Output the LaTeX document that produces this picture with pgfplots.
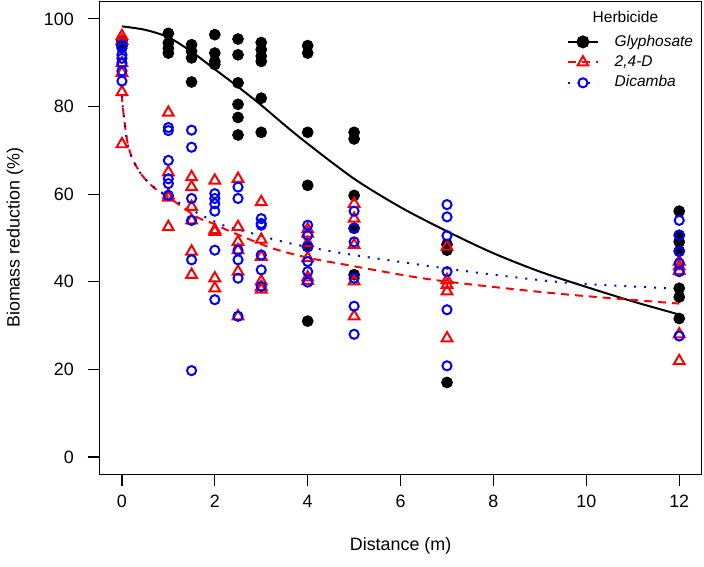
\documentclass[border=0pt]{standalone}
\usepackage{fontspec}
\setmainfont{Liberation Sans}
\usepackage{pgfplots}
\pgfplotsset{compat=1.18}
\begin{document}
\begin{tikzpicture}
\begin{axis}[
  scale only axis, width=302.95pt, height=238.1pt,
  xmin=-0.48, xmax=12.48, ymin=-4, ymax=104,
  xtick={0,2,4,6,8,10,12}, ytick={0,20,40,60,80,100},
  xtick pos=bottom, ytick pos=left,
  tick align=outside, major tick length=6pt,
  tick style={black, line width=0.6pt},
  axis line style={line width=0.6pt},
  ticklabel style={font=\fontsize{9}{10.8}\selectfont},
  yticklabel style={xshift=-3.5pt},
  xticklabel style={yshift=-1pt},
  /pgf/number format/assume math mode=true,
  xlabel={Distance (m)}, ylabel={Biomass reduction (\%)},
  label style={font=\fontsize{9}{10.8}\selectfont},
  xlabel style={at={(axis description cs:0.5,-0.1607)}, anchor=base},
  ylabel style={at={(axis description cs:-0.133,0.5)}, anchor=base},
  legend style={draw=none, fill=none, at={(axis description cs:0.766,0.947)}, anchor=north west,
    font=\fontsize{7.8}{9}\selectfont\itshape, row sep=-0.75pt,
    /tikz/every odd column/.append style={column sep=6pt}},
  legend cell align=left,
  legend image code/.code={\draw[mark repeat=2,mark phase=2,#1] plot coordinates {(0pt,0pt) (7.5pt,0pt) (15pt,0pt)};},
]
% Glyphosate points
\addplot[only marks, mark=*, mark size=2.75pt, black, forget plot] coordinates {
(0,95) (0,94.5) (0,93.8)
(1,96.7) (1,94.5) (1,93.3) (1,92.2)
(1.5,94.1) (1.5,92.6) (1.5,91.1) (1.5,85.6)
(2,96.4) (2,92.2) (2,90.3) (2,89.6)
(2.5,95.4) (2.5,91.8) (2.5,85.4) (2.5,80.5) (2.5,77.5) (2.5,73.5)
(3,94.6) (3,93.0) (3,91.5) (3,90.3) (3,81.9) (3,74.1)
(4,93.9) (4,92.2) (4,74.1) (4,62.0) (4,48.0) (4,31.0)
(5,74.1) (5,72.6) (5,59.7) (5,52.2) (5,41.6)
(7,48.5) (7,47.2) (7,17.0)
(12,56.1) (12,50.6) (12,49.1) (12,47.0) (12,38.5) (12,36.5) (12,31.6)
};
% 2,4-D points
\addplot[only marks, mark=triangle, mark size=3.1pt, red, line width=1pt, forget plot] coordinates {
(0,96.1) (0,95.0) (0,89.9) (0,87.7) (0,83.3) (0,71.4)
(1,78.6) (1,65.0) (1,59.7) (1,59.2) (1,52.5)
(1.5,63.9) (1.5,61.6) (1.5,57.1) (1.5,54.0) (1.5,46.9) (1.5,41.6)
(2,63.1) (2,51.8) (2,51.4) (2,40.8) (2,38.5)
(2.5,63.5) (2.5,52.5) (2.5,49.1) (2.5,47.2) (2.5,42.3) (2.5,32.1)
(3,58.2) (3,49.6) (3,45.7) (3,40.1) (3,38.8) (3,38.2)
(4,52.0) (4,51.0) (4,48.8) (4,45.4) (4,41.0) (4,40.2)
(5,57.8) (5,54.4) (5,48.4) (5,40.1) (5,32.1)
(7,48.0) (7,40.4) (7,39.3) (7,37.8) (7,27.1)
(12,44.6) (12,43.5) (12,42.5) (12,28.0) (12,21.9)
};
% Dicamba points
\addplot[only marks, mark=o, mark size=2.3pt, blue, line width=1pt, forget plot] coordinates {
(0,94.1) (0,93.3) (0,91.8) (0,91.0) (0,89.9) (0,88.1) (0,85.8)
(1,75.2) (1,74.5) (1,67.7) (1,63.5) (1,62.4) (1,59.7)
(1.5,74.6) (1.5,70.7) (1.5,59.0) (1.5,54.0) (1.5,45.0) (1.5,19.7)
(2,60.1) (2,59.0) (2,57.8) (2,56.1) (2,47.2) (2,35.9)
(2.5,61.6) (2.5,59.0) (2.5,47.2) (2.5,45.0) (2.5,40.8) (2.5,32.1)
(3,54.4) (3,53.3) (3,52.9) (3,46.1) (3,42.7) (3,38.9)
(4,52.9) (4,50.6) (4,48.0) (4,44.6) (4,42.3) (4,39.9)
(5,56.1) (5,52.2) (5,49.1) (5,40.8) (5,34.4) (5,28.0)
(7,57.6) (7,54.8) (7,50.5) (7,42.3) (7,33.6) (7,20.8)
(12,54.0) (12,50.6) (12,46.9) (12,44.2) (12,42.3) (12,27.6)
};
% fitted curves
\addplot[black, line width=1pt, smooth, forget plot] coordinates {
(0,98.3) (0.5,97.5) (1,95.8) (1.5,92.5) (2,88.5) (2.5,84.5) (3,80.3) (3.5,75.8) (4,71.5)
(5,63.5) (6,57.0) (7,51.5) (8,46.5) (9,42.3) (10,38.8) (11,35.5) (12,32.5)
};
\addplot[red, line width=1pt, dash pattern=on 4pt off 3pt, smooth, forget plot] coordinates {
(0,82.8) (0.01,80.9) (0.05,77.1) (0.12,71.8) (0.23,68.0) (0.44,64.2) (0.72,61.2) (1,59.3)
(1.35,56.7) (1.64,54.6) (1.96,53.3) (2.35,51.4) (3.25,47.6) (4.04,45.4) (4.75,44.0)
(6.46,40.8) (8,38.8) (9.67,37.0) (12,35.0)
};
\addplot[blue, line width=1pt, dash pattern=on 1pt off 4pt, smooth, forget plot] coordinates {
(0,82.5) (0.01,80.6) (0.05,77.0) (0.12,71.6) (0.23,67.8) (0.44,64.2) (0.72,61.3) (1,59.5)
(1.35,57.3) (1.75,55.0) (2.18,52.9) (2.82,51.0) (3.6,48.8) (4.75,46.5)
(6.46,43.8) (8,41.6) (9.67,39.7) (12,38.4)
};
\addlegendimage{black, line width=1pt, mark=*, mark size=2.75pt}
\addlegendentry{Glyphosate}
\addlegendimage{red, line width=1pt, dash pattern=on 4pt off 3pt, mark=triangle, mark size=3.1pt, mark options={solid}}
\addlegendentry{2,4{-}D}
\addlegendimage{blue, line width=1pt, dash pattern=on 1pt off 4pt, mark=o, mark size=2.3pt, mark options={solid}}
\addlegendentry{Dicamba}
\node[font=\fontsize{7.8}{9}\selectfont] at (axis description cs:0.8736,0.9664) {Herbicide};
\end{axis}
\path ([xshift=-47.8pt,yshift=-46.2pt]current axis.south west) rectangle ([xshift=1.25pt,yshift=0.7pt]current axis.north east);
\end{tikzpicture}
\end{document}
